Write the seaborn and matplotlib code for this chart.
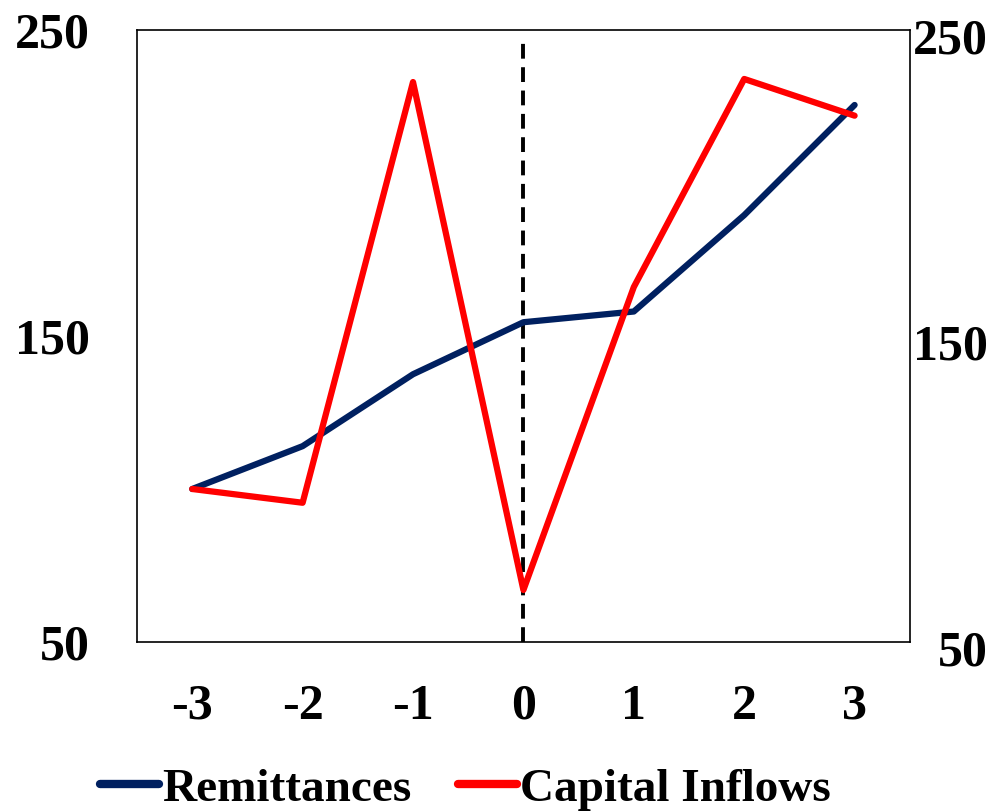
import matplotlib
matplotlib.use("Agg")
import matplotlib.pyplot as plt
import matplotlib.transforms as mtransforms
import seaborn as sns
import pandas as pd

# Event window (years relative to the event) and index values
periods = [-3, -2, -1, 0, 1, 2, 3]
remittances = [100, 114, 137.5, 154.5, 158, 189.5, 225.5]
capital_inflows = [100, 95.5, 233, 67, 166, 234, 222]
series_names = ["Remittances", "Capital Inflows"]
y_ticks = [50, 150, 250]

df = pd.DataFrame({
    "period": periods * 2,
    "value": remittances + capital_inflows,
    "series": [series_names[0]] * len(periods) + [series_names[1]] * len(periods),
})

sns.set_theme(style="white")
plt.rcParams["font.family"] = ["Liberation Serif", "DejaVu Serif"]
plt.rcParams["font.weight"] = "bold"
plt.rcParams["text.color"] = "black"
plt.rcParams["xtick.color"] = "black"
plt.rcParams["ytick.color"] = "black"
plt.rcParams["axes.edgecolor"] = "black"

fig = plt.figure(figsize=(9.9, 8.11), dpi=100)
ax = fig.add_axes([0.1384, 0.2084, 0.919 - 0.1384, 0.963 - 0.2084])

sns.lineplot(data=df, x="period", y="value", hue="series",
             palette={"Remittances": "#002060", "Capital Inflows": "#FF0000"},
             linewidth=4.5, ax=ax, legend=True)
for ln in ax.lines:
    ln.set_solid_capstyle("round")
    ln.set_solid_joinstyle("round")

ax.axvline(0, ymin=0, ymax=0.985, color="black", linewidth=2.8,
           linestyle=(0, (3.8, 2.2)), zorder=1)

ax.set_xlim(-3.5, 3.5)
ax.set_ylim(50, 250)
ax.set_xticks(periods)
ax.set_xticklabels([str(p) for p in periods])
ax.set_yticks(y_ticks)
ax.set_yticklabels([str(t) for t in y_ticks])
ax.set_xlabel("")
ax.set_ylabel("")
ax.tick_params(axis="both", length=0, labelsize=36, labelcolor="black")
ax.tick_params(axis="x", pad=30)
ax.tick_params(axis="y", pad=34)
for lab in ax.get_xticklabels() + ax.get_yticklabels():
    lab.set_fontweight("bold")

for sp in ax.spines.values():
    sp.set_color("black")
    sp.set_linewidth(1.2)

# Secondary axis on the right with the same scale
ax2 = ax.twinx()
ax2.set_ylim(50, 250)
ax2.set_yticks(y_ticks)
ax2.set_yticklabels([str(t) for t in y_ticks])
ax2.tick_params(axis="y", length=0, labelsize=36, pad=56, labelcolor="black")
shift_down = mtransforms.ScaledTranslation(0, -6 / 100, fig.dpi_scale_trans)
for lab in ax2.get_yticklabels():
    lab.set_fontweight("bold")
    lab.set_horizontalalignment("right")
    lab.set_transform(lab.get_transform() + shift_down)
for sp in ax2.spines.values():
    sp.set_visible(False)

handles, labels = ax.get_legend_handles_labels()
ax.get_legend().remove()
for h in handles:
    h.set_linewidth(6)
    h.set_solid_capstyle("round")
fig.legend(handles, labels, loc="center", bbox_to_anchor=(0.47, 0.027),
           ncol=2, frameon=False, handlelength=1.25, handletextpad=0.05,
           columnspacing=1.0, prop={"size": 34, "weight": "bold"})

fig.savefig("out.png", dpi=100)
